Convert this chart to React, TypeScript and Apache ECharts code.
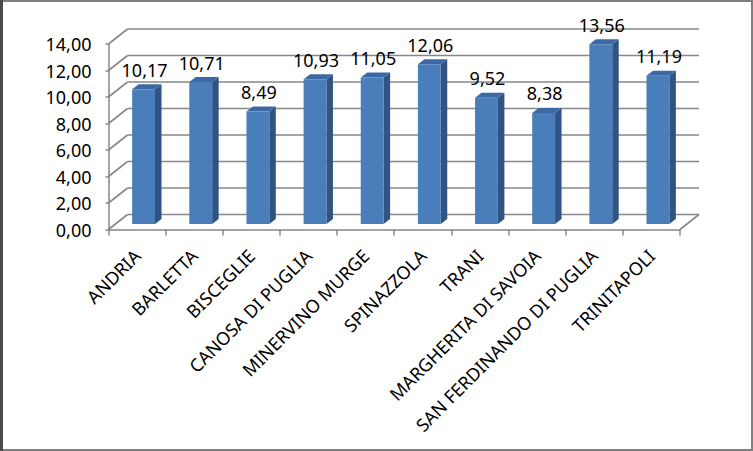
import React, { useEffect, useRef } from "react";
import * as echarts from "echarts";

const categories = [
  "ANDRIA",
  "BARLETTA",
  "BISCEGLIE",
  "CANOSA DI PUGLIA",
  "MINERVINO MURGE",
  "SPINAZZOLA",
  "TRANI",
  "MARGHERITA DI SAVOIA",
  "SAN FERDINANDO DI PUGLIA",
  "TRINITAPOLI",
];
const values = [10.17, 10.71, 8.49, 10.93, 11.05, 12.06, 9.52, 8.38, 13.56, 11.19];
const yTicks = [0, 2, 4, 6, 8, 10, 12, 14];

const FONT = "Noto Sans";
const fmt = (v: number) => v.toFixed(2).replace(".", ",");

// depth of the 3D box (back wall offset)
const WALL_DX = 19;
const WALL_DY = -15;
// bar placement in depth
const BAR_OFF_DX = 6.5;
const BAR_OFF_DY = -5.5;
const BAR_DX = 6.5;
const BAR_DY = -5;

export default function App() {
  const ref = useRef<HTMLDivElement>(null);
  useEffect(() => {
    if (!ref.current) return;
    const chart = echarts.init(ref.current, null, { renderer: "svg" });
    const gridColor = "#878787";
    chart.setOption({
      animation: false,
      backgroundColor: "#ffffff",
      graphic: [
        {
          type: "rect",
          shape: { x: 1, y: 1, width: 751, height: 449 },
          style: { fill: "none", stroke: "#7f7f7f", lineWidth: 2 },
          z: 100,
        },
        {
          type: "line",
          shape: { x1: 1.5, y1: 0, x2: 1.5, y2: 451 },
          style: { stroke: "#4a4a4a", lineWidth: 3 },
          z: 101,
        },
      ],
      grid: { left: 108.5, right: 73, top: 44, bottom: 221.5 },
      xAxis: {
        type: "category",
        data: categories,
        boundaryGap: true,
        axisLine: { show: true, lineStyle: { color: gridColor, width: 1.5 } },
        axisTick: { show: true, length: 6, lineStyle: { color: gridColor, width: 1.5 } },
        axisLabel: {
          interval: 0,
          rotate: 45,
          margin: 23,
          fontFamily: FONT,
          fontSize: 18,
          color: "#000",
        },
        splitLine: { show: false },
      },
      yAxis: {
        type: "value",
        min: 0,
        max: 14,
        interval: 2,
        axisLine: { show: true, lineStyle: { color: gridColor, width: 1.5 } },
        axisTick: { show: true, length: 3, lineStyle: { color: gridColor, width: 1.5 } },
        axisLabel: {
          formatter: (v: number) => fmt(v),
          margin: 17,
          fontFamily: FONT,
          fontSize: 18,
          color: "#000",
        },
        splitLine: { show: false },
      },
      series: [
        {
          type: "custom",
          name: "walls",
          clip: false,
          silent: true,
          z: 1,
          data: yTicks.map((v) => [0, v]),
          renderItem: (params: any, api: any) => {
            const v = api.value(1);
            const cs = params.coordSys;
            const y = api.coord([0, v])[1];
            const x0 = cs.x;
            const x1 = cs.x + cs.width;
            const style = { stroke: gridColor, lineWidth: 1.6, fill: "none" };
            const children: any[] = [
              {
                type: "line",
                shape: { x1: x0, y1: y, x2: x0 + WALL_DX, y2: y + WALL_DY },
                style,
              },
              {
                type: "line",
                shape: { x1: x0 + WALL_DX, y1: y + WALL_DY, x2: x1 + WALL_DX, y2: y + WALL_DY },
                style,
              },
            ];
            if (v === 0) {
              children.push({
                type: "line",
                shape: { x1: x1, y1: y, x2: x1 + WALL_DX, y2: y + WALL_DY },
                style,
              });
            }
            return { type: "group", children };
          },
        },
        {
          type: "custom",
          name: "bars",
          clip: false,
          z: 2,
          data: values.map((v, i) => [i, v]),
          renderItem: (params: any, api: any) => {
            const i = api.value(0);
            const v = api.value(1);
            const top = api.coord([i, v]);
            const base = api.coord([i, 0]);
            const bw = api.size([1, 0])[0];
            const w = bw * 0.4;
            const fx = top[0] - w / 2 + BAR_OFF_DX;
            const ty = top[1] + BAR_OFF_DY;
            const by = base[1] + BAR_OFF_DY;
            return {
              type: "group",
              children: [
                {
                  type: "polygon",
                  shape: {
                    points: [
                      [fx + w, ty],
                      [fx + w + BAR_DX, ty + BAR_DY],
                      [fx + w + BAR_DX, by + BAR_DY],
                      [fx + w, by],
                    ],
                  },
                  style: { fill: "#2f5383" },
                },
                {
                  type: "polygon",
                  shape: {
                    points: [
                      [fx, ty],
                      [fx + BAR_DX, ty + BAR_DY],
                      [fx + w + BAR_DX, ty + BAR_DY],
                      [fx + w, ty],
                    ],
                  },
                  style: { fill: "#3c69a3" },
                },
                {
                  type: "rect",
                  shape: { x: fx, y: ty, width: w, height: by - ty },
                  style: { fill: "#4a7ebb" },
                },
                {
                  type: "text",
                  x: fx + w / 2 + 1,
                  y: ty + BAR_DY - 14.5,
                  style: {
                    text: fmt(v),
                    fontFamily: FONT,
                    fontSize: 18,
                    fill: "#000",
                    align: "center",
                    verticalAlign: "middle",
                  },
                },
              ],
            };
          },
        },
      ],
    });
    return () => chart.dispose();
  }, []);
  return (
    <div
      ref={ref}
      style={{ position: "absolute", left: 0, top: 0, width: 753, height: 451 }}
    />
  );
}
